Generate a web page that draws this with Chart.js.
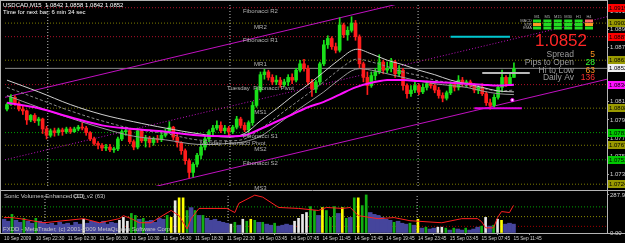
<!DOCTYPE html>
<html>
<head>
<meta charset="utf-8">
<script src="https://cdn.jsdelivr.net/npm/chart.js@4.4.0/dist/chart.umd.min.js"></script>
<style>
html, body { margin: 0; padding: 0; background: #000; }
#wrap { position: relative; width: 625px; height: 243px; background: #000; overflow: hidden; }
#main { position: absolute; left: 0; top: 0; }
#ind { position: absolute; left: 0; top: 191px; }
</style>
</head>
<body>
<div id="wrap">
  <canvas id="main" width="625" height="191"></canvas>
  <canvas id="ind" width="625" height="52"></canvas>
</div>
<script>
// ---- data ----
var symbol = "USDCAD,M15";
var timeLabels = ["10 Sep 2009", "10 Sep 22:30", "11 Sep 02:30", "11 Sep 06:30", "11 Sep 10:30", "11 Sep 14:30",
  "11 Sep 18:30", "11 Sep 22:30", "14 Sep 03:45", "14 Sep 07:45", "14 Sep 11:45", "14 Sep 15:45",
  "14 Sep 19:45", "14 Sep 23:45", "15 Sep 03:45", "15 Sep 07:45", "15 Sep 11:45"];
var barsPerLabel = 8;
var slotCount = 152;

var opens = [1.0807,1.0812,1.0820,1.0813,1.0807,1.0805,1.0795,1.0800,1.0794,1.0796,
  1.0785,1.0778,1.0783,1.0781,1.0784,1.0782,1.0785,1.0782,1.0785,1.0787,
  1.0786,1.0781,1.0774,1.0769,1.0767,1.0764,1.0765,1.0762,1.0763,1.0774,
  1.0782,1.0783,1.0771,1.0765,1.0783,1.0772,1.0775,1.0770,1.0774,1.0773,
  1.0778,1.0782,1.0787,1.0776,1.0770,1.0761,1.0750,1.0737,1.0746,1.0756,
  1.0765,1.0774,1.0782,1.0786,1.0789,1.0783,1.0786,1.0782,1.0787,1.0796,
  1.0789,1.0784,1.0792,1.0811,1.0828,1.0845,1.0848,1.0842,1.0837,1.0839,
  1.0834,1.0837,1.0842,1.0839,1.0850,1.0857,1.0852,1.0837,1.0829,1.0837,
  1.0857,1.0878,1.0885,1.0876,1.0872,1.0900,1.0889,1.0894,1.0902,1.0887,
  1.0857,1.0842,1.0833,1.0844,1.0848,1.0859,1.0850,1.0852,1.0859,1.0846,
  1.0850,1.0833,1.0824,1.0828,1.0833,1.0826,1.0831,1.0835,1.0833,1.0828,
  1.0822,1.0819,1.0825,1.0834,1.0831,1.0839,1.0835,1.0837,1.0833,1.0828,
  1.0831,1.0824,1.0814,1.0811,1.0820,1.0831,1.0842,1.0835,1.0842];
var highs = [1.0814,1.0823,1.0822,1.0815,1.0810,1.0806,1.0801,1.0802,1.0798,1.0797,
  1.0788,1.0785,1.0786,1.0786,1.0786,1.0787,1.0787,1.0787,1.0789,1.0792,
  1.0788,1.0782,1.0776,1.0771,1.0769,1.0768,1.0768,1.0765,1.0776,1.0784,
  1.0787,1.0784,1.0773,1.0786,1.0784,1.0778,1.0777,1.0776,1.0778,1.0782,
  1.0785,1.0793,1.0788,1.0780,1.0771,1.0763,1.0752,1.0748,1.0758,1.0768,
  1.0777,1.0784,1.0789,1.0794,1.0793,1.0789,1.0788,1.0789,1.0799,1.0798,
  1.0792,1.0794,1.0815,1.0831,1.0848,1.0851,1.0850,1.0845,1.0844,1.0842,
  1.0840,1.0845,1.0846,1.0852,1.0861,1.0862,1.0855,1.0840,1.0839,1.0859,
  1.0883,1.0888,1.0887,1.0880,1.0908,1.0902,1.0898,1.0909,1.0905,1.0889,
  1.0859,1.0848,1.0848,1.0852,1.0867,1.0861,1.0859,1.0863,1.0861,1.0855,
  1.0852,1.0835,1.0833,1.0837,1.0835,1.0835,1.0838,1.0837,1.0835,1.0831,
  1.0825,1.0827,1.0837,1.0837,1.0844,1.0842,1.0839,1.0839,1.0835,1.0833,
  1.0835,1.0826,1.0818,1.0823,1.0833,1.0850,1.0844,1.0846,1.0858];
var lows = [1.0805,1.0811,1.0811,1.0805,1.0801,1.0790,1.0793,1.0792,1.0789,1.0780,
  1.0774,1.0776,1.0777,1.0778,1.0778,1.0780,1.0780,1.0781,1.0783,1.0784,
  1.0778,1.0772,1.0767,1.0763,1.0761,1.0761,1.0760,1.0759,1.0761,1.0772,
  1.0778,1.0769,1.0762,1.0763,1.0770,1.0765,1.0765,1.0767,1.0770,1.0771,
  1.0776,1.0780,1.0773,1.0765,1.0757,1.0746,1.0731,1.0732,1.0743,1.0752,
  1.0762,1.0771,1.0778,1.0784,1.0781,1.0780,1.0777,1.0780,1.0785,1.0786,
  1.0782,1.0781,1.0789,1.0809,1.0826,1.0840,1.0839,1.0834,1.0834,1.0831,
  1.0832,1.0833,1.0835,1.0837,1.0848,1.0849,1.0834,1.0821,1.0825,1.0834,
  1.0855,1.0874,1.0873,1.0869,1.0870,1.0886,1.0883,1.0892,1.0883,1.0852,
  1.0837,1.0823,1.0831,1.0839,1.0846,1.0846,1.0847,1.0848,1.0842,1.0843,
  1.0828,1.0819,1.0821,1.0825,1.0823,1.0824,1.0828,1.0830,1.0825,1.0819,
  1.0815,1.0817,1.0823,1.0827,1.0828,1.0832,1.0831,1.0831,1.0825,1.0824,
  1.0822,1.0811,1.0807,1.0809,1.0818,1.0826,1.0832,1.0833,1.0842];
var closes = [1.0812,1.0820,1.0813,1.0807,1.0805,1.0795,1.0800,1.0794,1.0796,1.0785,
  1.0778,1.0783,1.0781,1.0784,1.0782,1.0785,1.0782,1.0785,1.0787,1.0786,
  1.0781,1.0774,1.0769,1.0767,1.0764,1.0765,1.0762,1.0763,1.0774,1.0782,
  1.0783,1.0771,1.0765,1.0783,1.0772,1.0775,1.0770,1.0774,1.0773,1.0778,
  1.0782,1.0787,1.0776,1.0770,1.0761,1.0750,1.0737,1.0746,1.0756,1.0765,
  1.0774,1.0782,1.0786,1.0789,1.0783,1.0786,1.0782,1.0787,1.0796,1.0789,
  1.0784,1.0792,1.0811,1.0828,1.0845,1.0848,1.0842,1.0837,1.0839,1.0834,
  1.0837,1.0842,1.0839,1.0850,1.0857,1.0852,1.0837,1.0829,1.0837,1.0857,
  1.0878,1.0885,1.0876,1.0872,1.0900,1.0889,1.0894,1.0902,1.0887,1.0857,
  1.0842,1.0833,1.0844,1.0848,1.0859,1.0850,1.0852,1.0859,1.0846,1.0850,
  1.0833,1.0824,1.0828,1.0833,1.0826,1.0831,1.0835,1.0833,1.0828,1.0822,
  1.0819,1.0825,1.0834,1.0831,1.0839,1.0835,1.0837,1.0833,1.0828,1.0831,
  1.0824,1.0814,1.0811,1.0820,1.0831,1.0842,1.0835,1.0842,1.0852];

// moving averages, sampled at these bars
var maIdx = [0,8,16,24,32,40,48,56,60,64,68,72,76,80,84,88,92,96,100,104,108,112,116,120,124,128];
var maSlow = [1.0814,1.0808,1.0798,1.0789,1.0785,1.0782,1.0778,1.0777,1.0778,1.0785,1.0793,1.0801,1.0809,
  1.0815,1.0823,1.0831,1.0836,1.0839,1.0839,1.0838,1.0837,1.0836,1.0835,1.0834,1.0833,1.0834];
var envUpper = [1.0839,1.0826,1.0812,1.0801,1.0793,1.0786,1.0780,1.0776,1.0780,1.0794,1.0807,1.0821,1.0834,
  1.0848,1.0862,1.0873,1.0868,1.0861,1.0856,1.0850,1.0845,1.0839,1.0835,1.0831,1.0827,1.0826];
var envMid = [1.0831,1.0818,1.0805,1.0794,1.0785,1.0780,1.0773,1.0772,1.0774,1.0785,1.0798,1.0811,1.0824,
  1.0837,1.0851,1.0862,1.0859,1.0854,1.0848,1.0844,1.0839,1.0836,1.0833,1.0830,1.0827,1.0828];
var envLower = [1.0822,1.0809,1.0797,1.0786,1.0777,1.0773,1.0768,1.0769,1.0771,1.0777,1.0789,1.0802,1.0814,
  1.0826,1.0840,1.0851,1.0850,1.0846,1.0842,1.0838,1.0835,1.0833,1.0831,1.0827,1.0824,1.0823];

// regression channel (ends of the rays)
var channelIdx = [-0.5, 151.5];
var channelUpper = [1.0820, 1.0978];
var channelMid = [1.0751, 1.0909];
var channelLower = [1.0682, 1.0840];

// pivot levels
var pivotNames = ["Fibonacci R2", "MR2", "Fibonacci R1", "MR1", "Tuesday  Fibonacci Pivot", "MS1",
  "Fibonacci S1", "MS2", "Fibonacci S2", "MS3"];
var pivotLevels = [1.0919, 1.0902, 1.0887, 1.0861, 1.0834, 1.0808, 1.0781, 1.0767, 1.0751, 1.0724];
var pivotKinds = ["res", "mid", "res", "mid", "res", "mid", "sup", "mid", "sup", "mid"];
var prevPivotName = "Monday  Fibonacci Pivot";
var prevPivotLevel = 1.0769;
var dayStarts = [10.3, 56.3, 103.8];
var priceTicks = [1.0735, 1.0755, 1.0775, 1.0795, 1.0815, 1.0835, 1.0855, 1.0875, 1.0895, 1.0915];

// daily range marks
var markNames = ["range", "low", "avg"];
var markPrices = [1.0847, 1.0808, 1.0887];
var markFrom = [120, 118, 112];
var markTo = [132, 130, 127];
var lowDot = {x: 127.6, y: 1.0817};

// info panel
var spread = 5, pipsToOpen = 28, hiToLow = 63, dailyAv = 136;
var tfNames = ["M1", "M5", "M15", "M30", "H1", "H4"];
var trendRows = ["MACD", "STR", "EMA"];
var trendStates = [[1, 1, 1, 1, 1, -1], [0, 1, 1, 1, 1, 0], [1, 1, 1, 1, 1, 1]];

// indicator window
var volumes = [104,89,141,96,81,111,89,74,111,89, 81,67,74,59,81,67,74,59,81,67,
  104,74,89,81,74,89,67,81,74,96, 118,89,148,133,104,111,89,96,81,111,
  104,133,118,244,266,266,170,192,170,133, 133,111,96,104,89,81,74,67,81,59,
  104,89,104,96,81,81,67,59,74,52, 59,67,59,89,111,141,155,200,170,133,
  192,170,118,200,148,192,111,118,266,266, 207,288,155,141,133,118,104,96,81,89,
  74,67,74,59,104,37,44,30,37,44, 44,37,22,37,30,22,37,22,30,44,
  52,118,52,59,104,96,67,74,67];
var volTypes = "ppgppgppgp" + "pppppppppp" + "wppppppppw" + "wwggpgpppp" + "pgywyygpgp" +
  "gppppppwgp" + "wgygpgppgp" + "pppwwwwggp" + "ygggpygpgy" + "ggppppppgp" +
  "ppgpypgppw" + "wgpgppgppp" + "gwpgwyppp";
var volMax = 287.95;
var cciIdx = [0,2,4,10,20,24,29,30,32,34,37,39,42,44,46,47,49,56,58,59,63,65,69,74,79,81,85,87,89,94,98,102,110,115,119,120,121,123,124,125,127,128];
var cciValues = [-10,-10,-21,-63,-21,-63,-21,10,-21,-63,-63,-10,63,10,-126,-21,84,84,42,136,220,200,94,84,63,94,84,94,10,-21,-10,-42,-63,-21,-21,-52,-115,-115,-10,52,42,115];
var cciLevels = [100, 0, -100];

// ---- styling ----
Chart.defaults.font.family = '"Liberation Sans", Arial, sans-serif';
Chart.defaults.color = '#c8c8c8';
Chart.defaults.animation = false;

var FONT = '"Liberation Sans", Arial, sans-serif';
var bull = '#1ae01a', bear = '#ff1c1c';
var pivotLine = {res: '#b0102a', mid: '#7c7c00', sup: '#00a000'};
var pivotBox = {res: '#ff0000', mid: '#9a9a00', sup: '#00c800'};
var markColors = {range: '#b8b8b8', low: '#e000e0', avg: '#00c8d0'};
var volColors = {p: '#45459c', g: '#12b012', w: '#e8e8e8', y: '#ffff00'};
var cciLevelColors = ['#00a000', '#8c8c00', '#a00000'];
var xMin = -0.5, xMax = slotCount - 0.5;
var yMin = 1.0722, yMax = 1.0922;

function pts(idx, vals) { return idx.map(function (x, k) { return {x: x, y: vals[k]}; }); }
function candleColor(c) { var i = c.dataIndex; return closes[i] >= opens[i] ? bull : bear; }
function hline(v, color, dash, order) {
  return {type: 'line', data: [{x: xMin, y: v}, {x: xMax, y: v}], borderColor: color, borderWidth: 1,
    borderDash: dash, pointRadius: 0, order: order};
}

var mainSets = [];
pivotLevels.forEach(function (v, k) { mainSets.push(hline(v, pivotLine[pivotKinds[k]], [1, 2], 40)); });
dayStarts.forEach(function (d) {
  mainSets.push({type: 'line', data: [{x: d, y: yMin}, {x: d, y: yMax}], borderColor: '#c0c0c0',
    borderWidth: 1, borderDash: [1, 2], pointRadius: 0, order: 39});
});
mainSets.push(hline(closes[closes.length - 1], '#8c8c8c', [], 38));
[channelUpper, channelMid, channelLower].forEach(function (ch, k) {
  mainSets.push({type: 'line', data: pts(channelIdx, ch), borderColor: '#c010c0', borderWidth: 1,
    borderDash: k === 1 ? [1, 2] : [], pointRadius: 0, order: 37});
});
mainSets.push({type: 'bar', data: opens.map(function (o, i) { return {x: i, y: [lows[i], highs[i]]}; }),
  backgroundColor: candleColor, barThickness: 1, grouped: false, order: 20});
mainSets.push({type: 'bar', data: opens.map(function (o, i) { return {x: i, y: [o, closes[i]]}; }),
  backgroundColor: candleColor, barThickness: 3, minBarLength: 1, grouped: false, order: 19});
mainSets.push({type: 'line', data: pts(maIdx, envLower), borderColor: '#9a9a9a', borderWidth: 1, pointRadius: 0, tension: 0.35, order: 8});
mainSets.push({type: 'line', data: pts(maIdx, envMid), borderColor: '#8a8a8a', borderWidth: 1, borderDash: [3, 2], pointRadius: 0, tension: 0.35, order: 7});
mainSets.push({type: 'line', data: pts(maIdx, envUpper), borderColor: '#cfcfcf', borderWidth: 1, pointRadius: 0, tension: 0.35, order: 6});
mainSets.push({type: 'line', data: pts(maIdx, maSlow), borderColor: '#ff10ff', borderWidth: 2, pointRadius: 0, tension: 0.35, order: 5});
markPrices.forEach(function (v, k) {
  mainSets.push({type: 'line', data: [{x: markFrom[k], y: v}, {x: markTo[k], y: v}],
    borderColor: markColors[markNames[k]], borderWidth: 2, pointRadius: 0, order: 4});
});
mainSets.push({type: 'scatter', data: [lowDot], pointRadius: 1.6, pointBackgroundColor: '#ffffff',
  pointBorderColor: '#ff00ff', pointBorderWidth: 1, order: 3});

function txt(ctx, s, x, y, color, size, align) {
  ctx.font = size + 'px ' + FONT;
  ctx.fillStyle = color;
  ctx.textAlign = align || 'left';
  ctx.textBaseline = 'middle';
  ctx.fillText(s, x, y);
}

var mainOverlay = {
  id: 'mainOverlay',
  afterDraw: function (chart) {
    var ctx = chart.ctx, ca = chart.chartArea, xs = chart.scales.x, ys = chart.scales.y;
    var W = chart.width, H = chart.height, last = opens.length - 1;
    ctx.save();
    // window frame
    ctx.strokeStyle = '#b4b4b4';
    ctx.lineWidth = 1;
    ctx.beginPath();
    ctx.moveTo(0, 0.5); ctx.lineTo(ca.right, 0.5);
    ctx.moveTo(0.5, 0); ctx.lineTo(0.5, H);
    ctx.moveTo(0, H - 0.5); ctx.lineTo(W, H - 0.5);
    ctx.moveTo(ca.right + 0.5, 0); ctx.lineTo(ca.right + 0.5, H);
    ctx.stroke();

    // header
    var ohlc = [opens[last], highs[last], lows[last], closes[last]].map(function (v) { return v.toFixed(4); });
    txt(ctx, symbol + '  ' + ohlc.join(' '), 3, 5, '#ffffff', 6);
    txt(ctx, 'Time for next bar: 6 min 34 sec', 3, 12, '#ffffff', 6);

    // pivot labels
    var lx = xs.getPixelForValue(64);
    pivotLevels.forEach(function (v, k) {
      txt(ctx, pivotNames[k], lx, ys.getPixelForValue(v) + 4, '#b4b4b4', 6, 'center');
    });
    txt(ctx, prevPivotName, xs.getPixelForValue(57), ys.getPixelForValue(prevPivotLevel), '#b4b4b4', 6, 'center');

    // trend table
    var tx = ca.right - 74, colW = 10.4, rowY = [21, 24.5, 28];
    tfNames.forEach(function (n, j) { txt(ctx, n, tx + colW * j + 4, 16.5, '#b0b0b0', 4, 'center'); });
    trendRows.forEach(function (r, i) {
      txt(ctx, r, tx - 1, rowY[i], '#b0b0b0', 4, 'right');
      trendStates[i].forEach(function (s, j) {
        ctx.fillStyle = s > 0 ? '#22dd22' : (s === 0 ? '#ff9a22' : '#ff6a6a');
        ctx.fillRect(tx + colW * j, rowY[i] - 1.5, 8, 3);
      });
    });

    // price and stats
    txt(ctx, closes[last].toFixed(4), ca.right - 20, 41, '#ff2626', 17, 'right');
    var names = ['Spread', 'Pips to Open', 'Hi to Low', 'Daily Av'];
    var vals = [spread, pipsToOpen, hiToLow, dailyAv];
    var cols = ['#ff9420', '#33ff33', '#ff9420', '#ff3030'];
    var sy = [55, 63, 71, 78];
    names.forEach(function (n, k) {
      txt(ctx, n, ca.right - 33, sy[k], '#9c9c9c', 8.5, 'right');
      txt(ctx, String(vals[k]), ca.right - 12, sy[k], cols[k], 8.5, 'right');
    });

    // price labels on the axis
    function box(v, fill) {
      var y = Math.round(ys.getPixelForValue(v));
      ctx.fillStyle = fill;
      ctx.fillRect(ca.right + 1, y - 4, W - ca.right, 8);
      txt(ctx, v.toFixed(4), ca.right + 2, y, '#000000', 6);
    }
    pivotLevels.forEach(function (v, k) { box(v, pivotBox[pivotKinds[k]]); });
    box(closes[last], '#f0f0f0');
    box(maSlow[maSlow.length - 1], '#ff10ff');
    ctx.restore();
  }
};

new Chart(document.getElementById('main'), {
  type: 'bar',
  data: {datasets: mainSets},
  options: {
    responsive: false,
    animation: false,
    events: [],
    layout: {padding: {left: 2, top: 2, bottom: 5, right: 0}},
    plugins: {legend: {display: false}, tooltip: {enabled: false}},
    scales: {
      x: {type: 'linear', min: xMin, max: xMax, offset: false, display: false},
      y: {
        position: 'right', min: yMin, max: yMax,
        afterBuildTicks: function (s) { s.ticks = priceTicks.map(function (v) { return {value: v}; }); },
        afterFit: function (s) { s.width = 18; s.paddingTop = 0; s.paddingBottom = 0; },
        ticks: {font: {size: 6}, color: '#d4d4d4', padding: 1, autoSkip: false,
          callback: function (v) { return Number(v).toFixed(4); }},
        grid: {drawOnChartArea: false, color: '#a8a8a8', tickLength: 2},
        border: {color: '#b4b4b4'}
      }
    }
  },
  plugins: [mainOverlay]
});

// ---- indicator window ----
function volSet(pred, thick, order) {
  return {type: 'bar', yAxisID: 'vol', grouped: false, barThickness: thick, order: order,
    data: volumes.map(function (v, i) { return {x: i, y: pred(volTypes.charAt(i)) ? v : null}; }),
    backgroundColor: function (c) { return volColors[volTypes.charAt(c.dataIndex)]; }};
}
var indSets = [];
indSets.push({type: 'line', data: pts(cciIdx, cciValues), yAxisID: 'cci', borderColor: '#ff2020',
  borderWidth: 1, pointRadius: 0, order: 1});
indSets.push(volSet(function (t) { return t !== 'p'; }, 2, 4));
indSets.push(volSet(function (t) { return t === 'p'; }, 4, 6));
cciLevels.forEach(function (v, k) {
  indSets.push({type: 'line', data: [{x: xMin, y: v}, {x: xMax, y: v}], yAxisID: 'cci',
    borderColor: cciLevelColors[k], borderWidth: 1, borderDash: [1, 2], pointRadius: 0, order: 9});
});
dayStarts.forEach(function (d) {
  indSets.push({type: 'line', data: [{x: d, y: 0}, {x: d, y: 295}], yAxisID: 'vol', borderColor: '#c0c0c0',
    borderWidth: 1, borderDash: [1, 2], pointRadius: 0, order: 10});
});

var indOverlay = {
  id: 'indOverlay',
  afterDraw: function (chart) {
    var ctx = chart.ctx, ca = chart.chartArea, W = chart.width;
    ctx.save();
    ctx.strokeStyle = '#b4b4b4';
    ctx.lineWidth = 1;
    ctx.beginPath();
    ctx.moveTo(0.5, 0); ctx.lineTo(0.5, ca.bottom);
    ctx.moveTo(0, ca.bottom + 0.5); ctx.lineTo(W, ca.bottom + 0.5);
    ctx.moveTo(ca.right + 0.5, 0); ctx.lineTo(ca.right + 0.5, ca.bottom);
    ctx.stroke();
    txt(ctx, 'Sonic Volumes Enhanced (10)', 4, 5, '#c8c8c8', 6);
    txt(ctx, 'CCI_v2 (63)', 73, 5, '#c8c8c8', 6);
    txt(ctx, 'FXDD - MetaTrader, (c) 2001-2009 MetaQuotes Software Corp.', 3, ca.bottom - 4, '#c8c8c8', 6);
    ctx.restore();
  }
};

new Chart(document.getElementById('ind'), {
  type: 'bar',
  data: {datasets: indSets},
  options: {
    responsive: false,
    animation: false,
    events: [],
    layout: {padding: {left: 2, top: 3, bottom: 0, right: 0}},
    plugins: {legend: {display: false}, tooltip: {enabled: false}},
    scales: {
      x: {
        type: 'linear', min: xMin, max: xMax, offset: false,
        afterBuildTicks: function (s) { s.ticks = timeLabels.map(function (t, k) { return {value: k * barsPerLabel}; }); },
        afterFit: function (s) { s.height = 10; s.paddingLeft = 0; s.paddingRight = 0; },
        ticks: {autoSkip: false, maxRotation: 0, align: 'start', font: {size: 4.8}, color: '#d4d4d4', padding: 1,
          callback: function (v, i) { return timeLabels[i]; }},
        grid: {drawOnChartArea: false, color: '#a8a8a8', tickLength: 2},
        border: {display: false}
      },
      vol: {
        position: 'right', min: 0, max: 295,
        afterBuildTicks: function (s) { s.ticks = [{value: 0}, {value: volMax}]; },
        afterFit: function (s) { s.width = 18; s.paddingTop = 0; s.paddingBottom = 0; },
        ticks: {font: {size: 6}, color: '#d4d4d4', padding: 1, autoSkip: false,
          callback: function (v) { return Number(v).toFixed(2); }},
        grid: {drawOnChartArea: false, color: '#a8a8a8', tickLength: 2},
        border: {color: '#b4b4b4'}
      },
      cci: {display: false, min: -168, max: 232}
    }
  },
  plugins: [indOverlay]
});
</script>
</body>
</html>
